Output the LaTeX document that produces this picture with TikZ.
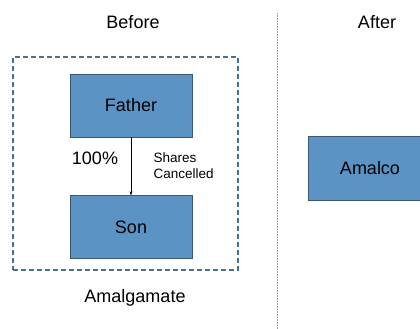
\documentclass[tikz,border=0pt]{standalone}
\usepackage{fontspec}
\setmainfont{Liberation Sans}
\usetikzlibrary{arrows.meta}
\definecolor{boxblue}{RGB}{91,147,196}
\definecolor{boxedge}{RGB}{58,88,118}
\definecolor{dashblue}{RGB}{65,113,156}
\begin{document}
\begin{tikzpicture}[x=1pt,y=-1pt,
    entity/.style={draw=boxedge, fill=boxblue, inner sep=0pt,
      minimum width=122pt, minimum height=63pt, font=\fontsize{18}{20}\selectfont},
    caption/.style={font=\fontsize{18}{20}\selectfont}]
    \clip (0,0) rectangle (420,329);
    % before
    \node[caption] (before) at (133,22) {Before};
    \node[draw=dashblue, line width=1.3pt, dash pattern=on 5pt off 3pt,
      minimum width=225pt, minimum height=213pt] (group) at (125.5,163.5) {};
    \node[entity] (father) at (131,105.5) {Father};
    \node[entity] (son) at (131,227) {Son};
    \draw[-{Stealth[length=4pt,width=3pt]}, thin] (father) -- (son);
    \node[caption] (share) at (95,158) {100\%};
    \node[anchor=west, align=left, font=\fontsize{13.5}{16}\selectfont] (cancel) at (150,166) {Shares\\Cancelled};
    \node[caption] (amalg) at (135,298) {Amalgamate};
    % divider
    \coordinate (divtop) at (277,13);
    \coordinate (divbot) at (277,329);
    \draw[black!40, line width=0.9pt, dash pattern=on 1pt off 0.6pt] (divtop) -- (divbot);
    % after
    \node[caption] (after) at (377,22) {After};
    \node[entity, minimum width=124pt, minimum height=64pt] (amalco) at (370,168) {Amalco};
\end{tikzpicture}
\end{document}
